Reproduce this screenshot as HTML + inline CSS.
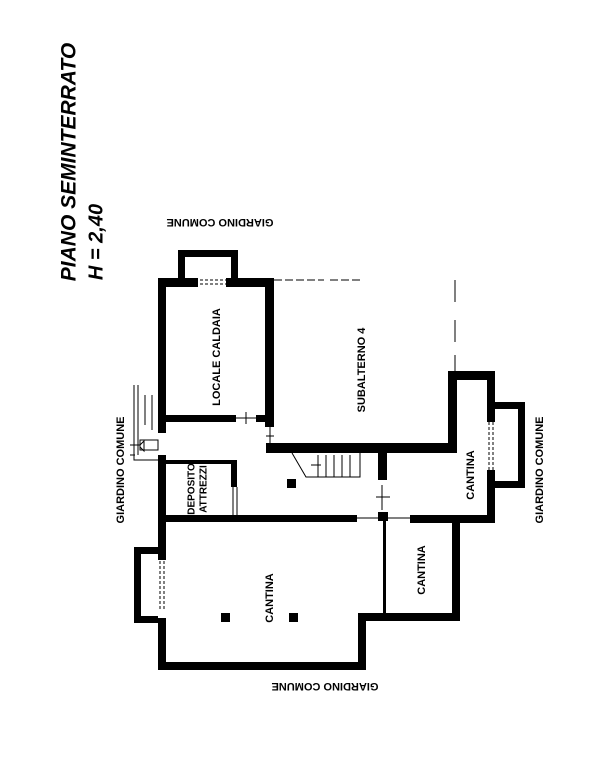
<!DOCTYPE html>
<html><head><style>body{margin:0;background:#fff}svg{display:block}</style></head><body>
<svg width="612" height="762" viewBox="0 0 612 762" xmlns="http://www.w3.org/2000/svg" font-family="Liberation Sans, sans-serif">
<rect width="612" height="762" fill="#fff"/>
<g fill="#000">
<rect x="178" y="250" width="60" height="7"/>
<rect x="178" y="250" width="7" height="30"/>
<rect x="231" y="250" width="7" height="30"/>
<rect x="158" y="278" width="40" height="9"/>
<rect x="226" y="278" width="48" height="9"/>
<rect x="158" y="278" width="8" height="155"/>
<rect x="158" y="455" width="8" height="215"/>
<rect x="265" y="278" width="9" height="149"/>
<rect x="165" y="415" width="71" height="7"/>
<rect x="256" y="415" width="10" height="7"/>
<rect x="266" y="443" width="191" height="10"/>
<rect x="448" y="371" width="9" height="82"/>
<rect x="448" y="371" width="47" height="9"/>
<rect x="487" y="371" width="8" height="51"/>
<rect x="487" y="470" width="8" height="53"/>
<rect x="495" y="402" width="30" height="7"/>
<rect x="518" y="402" width="7" height="86"/>
<rect x="495" y="481" width="30" height="7"/>
<rect x="378" y="453" width="9" height="27"/>
<rect x="165" y="515" width="192" height="7"/>
<rect x="410" y="515" width="85" height="8"/>
<rect x="378" y="512" width="10" height="9"/>
<rect x="165" y="460" width="72" height="4"/>
<rect x="231" y="460" width="6" height="27"/>
<rect x="383" y="520" width="3" height="95"/>
<rect x="452" y="515" width="8" height="106"/>
<rect x="358" y="613" width="102" height="8"/>
<rect x="358" y="613" width="8" height="57"/>
<rect x="158" y="662" width="208" height="8"/>
<rect x="134" y="547" width="28" height="7"/>
<rect x="134" y="547" width="7" height="76"/>
<rect x="134" y="616" width="28" height="7"/>
<rect x="221" y="613" width="9" height="9"/>
<rect x="289" y="613" width="9" height="9"/>
<rect x="287" y="479" width="9" height="9"/>
</g>
<g fill="#fff"><rect x="158" y="590" width="8" height="28"/><rect x="158" y="560" width="8" height="30"/></g>
<g stroke="#000" stroke-width="1" fill="none">
<path d="M160 556 v55 M164 556 v55" stroke-dasharray="3 2"/>
<path d="M489 422 v48 M493 422 v48" stroke-dasharray="3 2"/>
<path d="M200 280 h26 M200 284 h26" stroke-dasharray="3 2"/>
<path d="M274 280 h50 M330 280 h30" stroke-dasharray="8 3"/>
<path d="M455 280 v22 M455 320 v22 M455 355 v16" />
<path d="M236 418 h20 M246 412 v12 M270 427 v18 M266 436 h8"/>
<path d="M357 518 h53 M382 485 v25 M376 497 h14"/>
<path d="M233 487 v28 M237 487 v28"/>
<path d="M134 385 v75 h24 M138 385 v70 M130 455 h5 M145 395 v30 M152 395 v35"/>
<path d="M140 440 h18 v10 h-18 z" fill="#fff"/>
<path d="M130 445 h10 l4 -4 v10 l-4 -4"/>
<path d="M292 453 l14 24 h54 v-24 M318 455 v22 M326 455 v22 M334 455 v22 M342 455 v22 M350 455 v22 M311 465 h10"/>
</g>
<g fill="#000" font-size="11" font-weight="bold">
<text transform="translate(220,222) rotate(180)" text-anchor="middle" dominant-baseline="middle">GIARDINO  COMUNE</text>
<text transform="translate(325,686) rotate(180)" text-anchor="middle" dominant-baseline="middle">GIARDINO  COMUNE</text>
<text transform="translate(121,470) rotate(-90)" text-anchor="middle" dominant-baseline="middle">GIARDINO COMUNE</text>
<text transform="translate(540,470) rotate(-90)" text-anchor="middle" dominant-baseline="middle">GIARDINO COMUNE</text>
<text transform="translate(217,357) rotate(-90)" text-anchor="middle" dominant-baseline="middle">LOCALE  CALDAIA</text>
<text transform="translate(362,370) rotate(-90)" text-anchor="middle" dominant-baseline="middle">SUBALTERNO  4</text>
<text transform="translate(471,475) rotate(-90)" text-anchor="middle" dominant-baseline="middle">CANTINA</text>
<text transform="translate(422,570) rotate(-90)" text-anchor="middle" dominant-baseline="middle">CANTINA</text>
<text transform="translate(270,598) rotate(-90)" text-anchor="middle" dominant-baseline="middle">CANTINA</text>
<text transform="translate(192,489) rotate(-90)" text-anchor="middle" dominant-baseline="middle" font-size="10">DEPOSITO</text>
<text transform="translate(204,489) rotate(-90)" text-anchor="middle" dominant-baseline="middle" font-size="10">ATTREZZI</text>
<text transform="translate(70,162) rotate(-90)" text-anchor="middle" dominant-baseline="middle" font-size="21" font-style="italic">PIANO  SEMINTERRATO</text>
<text transform="translate(97,242) rotate(-90)" text-anchor="middle" dominant-baseline="middle" font-size="20" font-style="italic">H = 2,40</text>
</g>
</svg>
</body></html>
